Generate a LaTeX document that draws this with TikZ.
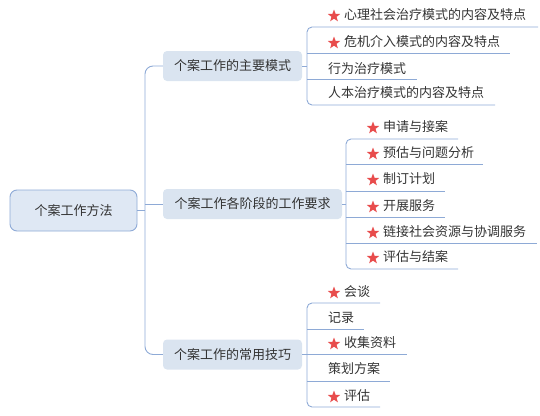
\documentclass[tikz,border=0pt]{standalone}
\usepackage{fontspec}
\usetikzlibrary{shapes.geometric}
\newfontfamily\cjk{Noto Sans CJK SC}
\definecolor{linec}{HTML}{8EAAD6}
\definecolor{rootfill}{HTML}{DFE8F4}
\definecolor{boxfill}{HTML}{DAE4F0}
\definecolor{txt}{HTML}{333333}
\definecolor{starc}{HTML}{E84C4C}
\tikzset{
  conn/.style={draw=linec, line width=0.9pt},
  rootbox/.style={draw=linec, line width=0.9pt, fill=rootfill, rounded corners=7pt, minimum width=127pt, minimum height=41pt, text=txt, font=\cjk\fontsize{13}{15}\selectfont, inner sep=0pt},
  branchbox/.style={fill=boxfill, rounded corners=4pt, minimum height=30pt, text=txt, font=\cjk\fontsize{13}{15}\selectfont, inner sep=0pt},
  leaf/.style={anchor=west, text=txt, font=\cjk\fontsize{13}{15}\selectfont, inner sep=0pt},
  starnode/.style={star, star points=5, star point ratio=2.4, fill=starc, minimum size=13pt, inner sep=0pt}
}
\begin{document}
\begin{tikzpicture}[x=1pt,y=-1pt]
\useasboundingbox (0,0) rectangle (540,415);
% root
\node[rootbox] (root) at (73.5,210.5) {个案工作方法};
% branches
\node[branchbox, minimum width=139pt] (b1) at (232.5,66) {个案工作的主要模式};
\node[branchbox, minimum width=179pt] (b2) at (252.5,204) {个案工作各阶段的工作要求};
\node[branchbox, minimum width=139pt] (b3) at (232.5,354.5) {个案工作的常用技巧};
% trunk
\coordinate (t1) at (145,66);
\coordinate (t2) at (145,204);
\coordinate (t0) at (145,210.5);
\coordinate (t3) at (145,354.5);
\draw[conn, rounded corners=8pt] (b1.west) -- (t1) -- (t3) -- (b3.west);
\draw[conn] (root.east) -- (t0);
\draw[conn] (b2.west) -- (t2);

% ---- branch 1 children
\coordinate (v1) at (307,66);
\draw[conn] (b1.east) -- (v1);
\node[starnode] (s11) at (334,16) {};
\node[leaf] (c11) at (344,15) {心理社会治疗模式的内容及特点};
\node[starnode] (s12) at (334,43) {};
\node[leaf] (c12) at (344,42) {危机介入模式的内容及特点};
\node[leaf] (c13) at (328,68.5) {行为治疗模式};
\node[leaf] (c14) at (328,93) {人本治疗模式的内容及特点};
\coordinate (u11a) at (307,27);  \coordinate (u11b) at (538,27);
\coordinate (u12a) at (307,53);  \coordinate (u12b) at (510,53);
\coordinate (u13a) at (307,79);  \coordinate (u13b) at (417,79);
\coordinate (u14a) at (307,105); \coordinate (u14b) at (495,105);
\draw[conn, rounded corners=5pt] (u11b) -- (u11a) -- (u14a) -- (u14b);
\draw[conn] (u12a) -- (u12b);
\draw[conn] (u13a) -- (u13b);

% ---- branch 2 children
\coordinate (v2) at (346,204);
\draw[conn] (b2.east) -- (v2);
\node[starnode] (s21) at (373,128) {};
\node[leaf] (c21) at (383,127) {申请与接案};
\node[starnode] (s22) at (373,154) {};
\node[leaf] (c22) at (383,153) {预估与问题分析};
\node[starnode] (s23) at (373,180) {};
\node[leaf] (c23) at (383,179) {制订计划};
\node[starnode] (s24) at (373,207) {};
\node[leaf] (c24) at (383,206) {开展服务};
\node[starnode] (s25) at (373,233) {};
\node[leaf] (c25) at (383,232) {链接社会资源与协调服务};
\node[starnode] (s26) at (373,258) {};
\node[leaf] (c26) at (383,257) {评估与结案};
\coordinate (u21a) at (346,139); \coordinate (u21b) at (458,139);
\coordinate (u22a) at (346,164); \coordinate (u22b) at (483,164);
\coordinate (u23a) at (346,191); \coordinate (u23b) at (445,191);
\coordinate (u24a) at (346,217); \coordinate (u24b) at (445,217);
\coordinate (u25a) at (346,243); \coordinate (u25b) at (537,243);
\coordinate (u26a) at (346,269); \coordinate (u26b) at (458,269);
\draw[conn, rounded corners=5pt] (u21b) -- (u21a) -- (u26a) -- (u26b);
\draw[conn] (u22a) -- (u22b);
\draw[conn] (u23a) -- (u23b);
\draw[conn] (u24a) -- (u24b);
\draw[conn] (u25a) -- (u25b);

% ---- branch 3 children
\coordinate (v3) at (307,354.5);
\draw[conn] (b3.east) -- (v3);
\node[starnode] (s31) at (334,293) {};
\node[leaf] (c31) at (344,292) {会谈};
\node[leaf] (c32) at (328,318) {记录};
\node[starnode] (s33) at (334,344) {};
\node[leaf] (c33) at (344,343) {收集资料};
\node[leaf] (c34) at (328,369) {策划方案};
\node[starnode] (s35) at (334,397) {};
\node[leaf] (c35) at (344,396) {评估};
\coordinate (u31a) at (307,303);   \coordinate (u31b) at (380,303);
\coordinate (u32a) at (307,329);   \coordinate (u32b) at (364,329);
\coordinate (u33a) at (307,354.5); \coordinate (u33b) at (407,354.5);
\coordinate (u34a) at (307,381);   \coordinate (u34b) at (390,381);
\coordinate (u35a) at (307,407);   \coordinate (u35b) at (380,407);
\draw[conn, rounded corners=5pt] (u31b) -- (u31a) -- (u35a) -- (u35b);
\draw[conn] (u32a) -- (u32b);
\draw[conn] (u33a) -- (u33b);
\draw[conn] (u34a) -- (u34b);
\end{tikzpicture}
\end{document}
